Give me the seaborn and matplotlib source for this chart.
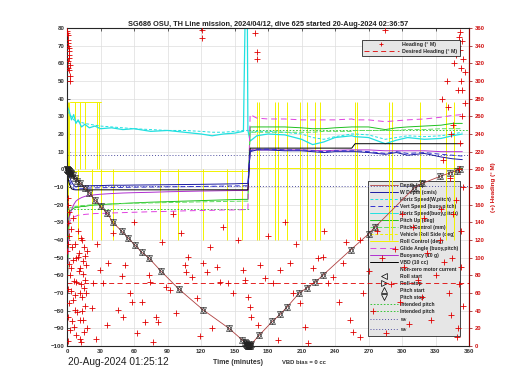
import numpy as np
import pandas as pd
import matplotlib.pyplot as plt
import seaborn as sns
from matplotlib.lines import Line2D

sns.set_style('white')
plt.rcParams['font.family'] = ['Liberation Sans', 'DejaVu Sans']

title = 'SG686 OSU, TH Line mission, 2024/04/12, dive 625 started 20-Aug-2024 02:36:57'
plot_time = '20-Aug-2024 01:25:12'

# engineering time base (minutes) shared by the line series
t_eng = [0, 2, 4, 6, 8, 10, 13, 16, 20, 25, 30, 40, 50, 60, 75, 90, 105, 120, 130, 140, 150,
         158, 161, 162, 164, 170, 180, 195, 210, 220, 230, 240, 255, 258, 270, 285, 295, 305,
         320, 335, 345, 354]
hspd_w = [33, 31, 30, 28, 27.5, 27, 26.5, 26, 25.5, 25, 24.5, 24, 23.5, 23, 22.5, 22, 22, 21.5,
          21, 21, 21.5, 22, 22, 22, 21, 21.5, 21.5, 21, 20, 18, 17, 18.5, 20, 20, 19.5, 17, 18,
          19, 18.5, 19, 20, 21]
hspd_b = [36, 33, 28, 31, 26, 28, 24, 25.5, 23.5, 24.5, 23, 23.5, 22.5, 23, 21.5, 22, 21, 20,
          19, 20, 20.5, 21.5, 150, 22, 16, 19, 20, 19.5, 17, 14, 15.5, 18, 19, 18.5, 18, 14.5,
          16.5, 18, 17, 17.5, 19, 20]
w_depth = [0, -4, -7, -9, -10, -9.5, -9.5, -9.5, -9.3, -9.2, -9.2, -9, -9, -8.9, -8.8, -8.7,
           -8.6, -8.5, -8.4, -8.3, -8.2, -8, -8, -8, 10, 11, 11, 10.5, 10.5, 10, 9.5, 10, 10,
           10, 9.5, 8.5, 9.5, 8, 9, 7, 6, 5.5]
vspd_b = [-2, -6, -9, -11, -11.5, -11, -11, -10.8, -10.6, -10.5, -10.4, -10.3, -10.2, -10.1,
          -10, -9.9, -9.8, -9.7, -9.6, -9.5, -9.4, -9.3, -9.3, -9.3, 10.5, 11.5, 11.5, 11, 11,
          10.5, 10, 10.5, 10.5, 10.5, 10, 9, 10, 9, 9.5, 8.5, 8, 7.5]
pitch = [-75, -24, -23, -22, -21.5, -21.5, -21, -21, -20.5, -20.2, -20, -19.6, -19.3, -19,
         -18.6, -18.3, -18, -17.7, -17.5, -17.3, -17.1, -17, -17, -17, 24, 24, 24, 24, 23.5,
         23, 23, 23.5, 24, 24, 24, 22.5, 23.5, 24, 24.5, 25, 26, 26]
pitch_ctl = [-22, -22, -21.5, -21.5, -21, -21, -20.5, -20.5, -20.2, -20, -19.8, -19.6, -19.4,
             -19.2, -19, -18.8, -18.6, -18.4, -18.3, -18.2, -18.1, -18, -18, -18, 21, 21, 21,
             21, 21, 21, 21.5, 21.5, 21.5, 22, 22, 22, 22, 22.5, 22.5, 23, 23, 23]
glide = [-70, -30, -28, -27, -26.5, -26, -25.8, -25.5, -25.3, -25, -25, -24.7, -24.5, -24.3,
         -24, -23.8, -23.5, -23.3, -23.2, -23, -23, -22.8, -22.8, -22.8, 31, 29, 28.5, 28.5,
         28, 28, 28, 28, 28.5, 28, 28, 27, 27.5, 28, 28.5, 29.5, 30.5, 31]
buoy = [-30, -27, -23, -20, -18, -17, -16, -15.3, -14.8, -14.4, -14.1, -13.7, -13.4, -13.2,
        -13, -12.7, -12.5, -12.3, -12.2, -12.1, -12, -12, -12, -12, 11, 11, 11, 11, 11, 10.8,
        10.5, 10.8, 11, 11, 11, 10.5, 10.5, 10.5, 10.5, 10, 10, 10]
vbd = [-2, -8, -11, -11.5, -11.6, -11.6, -11.6, -11.6, -11.6, -11.6, -11.6, -11.6, -11.6,
       -11.6, -11.6, -11.6, -11.6, -11.6, -11.6, -11.6, -11.6, -11.6, -11.6, -11.6, 12, 12,
       12, 12, 12, 12, 12, 12, 12, 14.5, 14.5, 14.5, 14.5, 14.5, 14.5, 14.5, 14.5, 14.5]

# roll trace: baseline per phase plus switching spikes
roll_base_t = [0, 163, 163, 354]
roll_base_v = [-0.7, -0.7, 0.8, 0.8]
roll_hold_t = [3, 30]
roll_hold_v = [38, 38]
roll_spike_t = [0.5, 2, 7, 12, 16, 27, 29, 0.8, 10, 22, 30, 41, 83, 99, 122, 143, 157,
                170, 172, 186, 189, 197, 209, 215, 222, 227, 258, 260, 288, 291, 316, 339, 347]
roll_spike_lo = [0, 0, 0, 0, 0, 0, 0, -40, -40, -40, -40, -40, -40, -40, -40, -40, -40,
                 -40, -40, -40, -40, -40, -40, -40, -40, -40, -40, -40, -40, -40, -40, -40, -40]
roll_spike_hi = [38, 38, 38, 38, 38, 38, 38, 0, 0, 0, 0, 0, 0, 0, 0, 0, 0,
                 38, 38, 38, 38, 38, 38, 38, 38, 38, 38, 38, 38, 38, 38, 38, 38]

# intended pitch / w_d reference levels
ipitch_dn, ipitch_up = -22.4, 22.4
wd_up, wd_dn = 8.0, -9.3

# depth (m / 10, plotted negative) with control markers
depth_t = [0, 0.3, 0.6, 1, 1.3, 1.6, 2, 2.5, 3, 3.5, 4, 5, 7, 9, 12, 16, 20, 25, 30, 36, 41,
           49, 55, 61, 67, 73, 84, 100, 122, 145, 157, 159, 160, 160.5, 161, 161.5, 162, 162.5,
           163, 163.5, 164, 165, 172, 184, 191, 197, 208, 215, 222, 229, 254, 270, 276, 311,
           318, 334, 343, 349, 352]
depth_v = [0, 0, -0.2, -0.3, -0.5, -0.7, -1, -1.3, -1.8, -2.2, -2.6, -3.3, -5, -6.4, -7.8,
           -10.5, -13.4, -17.3, -21, -24.7, -30, -35, -39, -43, -47, -50, -57.5, -67.7, -79.6,
           -90, -96.6, -97.8, -98.5, -99, -99.3, -99.6, -99.8, -100, -100, -99.8, -99.5, -99,
           -94, -86, -82, -78, -70, -67, -64, -60, -45.6, -36.6, -32.6, -10.5, -8, -4, -2,
           -0.8, 0]

# heading (deg M), right axis
heading_t = [0.3, 0.8, 1.2, 0.5, 1.6, 2.0, 0.9, 2.4, 1.4, 2.8, 0.6, 1.8, 1.0, 2.2, 0.4, 1.5,
             2.6, 0.7, 1.9, 1.1, 2.9, 0.5, 0.4, 1.3, 2.1, 1.7, 0.9, 2.5, 1.2, 0.6,
             3.5, 4.0, 4.5, 5.0, 5.5, 6.0, 6.5, 7.0, 7.5, 8.0, 8.5, 9.0, 9.5, 10, 10.5, 11,
             11.5, 12, 12.5, 13, 13.5, 14, 14.5, 15, 15.5, 16, 16.5, 17, 17.5, 18,
             3.8, 4.8, 5.8, 6.8, 7.8, 11.2, 11.8, 12.2, 12.8, 13.2, 14.2, 15.2, 16.2, 17.2,
             22, 23.6, 26, 27, 29.5, 32, 36, 37, 41, 46, 49, 50, 52, 56, 58, 60, 63, 67, 70,
             73, 74, 77, 80, 81.5, 85, 89, 92, 95, 98, 102, 105.6, 107, 108, 112, 116, 119,
             121, 121, 122, 125, 128, 130, 134, 137, 140, 144, 149, 153, 158, 159, 162, 164,
             165,
             168, 170, 170, 171, 173, 177, 180, 184.6, 189, 191, 195, 200, 202, 205, 209, 213,
             216, 220, 225, 229, 230, 234, 238, 244, 247, 250, 253, 256,
             262, 262, 265, 268, 270, 274, 278, 282, 283, 285, 286, 290, 294, 298, 300, 302,
             306, 310, 314, 318, 320, 322, 326, 330,
             334, 335, 336, 337, 338, 339, 340, 341, 342, 343, 344, 344, 345, 346, 346, 347,
             348, 348, 349, 350, 350, 351, 351, 352, 352, 353, 353, 354, 354, 355, 355, 356,
             352, 353, 354, 355, 351, 356, 353, 350]
heading_v = [357, 352, 346, 340, 334, 329, 323, 318, 312, 306, 168, 152, 139, 124, 108, 93,
             80, 64, 49, 33, 18, 6, 354, 343, 337, 326, 315, 300, 160, 115,
             132, 88, 112, 52, 97, 22, 74, 116, 41, 72, 12, 38, 101, 130, 85, 105, 60, 88, 4,
             55, 120, 30, 96, 112, 66, 75, 45, 92, 20, 108,
             62, 28, 145, 58, 100, 30, 8, 122, 70, 40, 82, 16, 102, 60,
             43, 71, 8, 115, 86, 71, 24, 94, 128, 41, 79, 33, 92, 60, 50, 140, 15, 50, 27, 80,
             72, 5, 33, 27, 118, 67, 63, 150, 37, 128, 92, 84, 101, 78, 54, 11, 358, 349, 94,
             84, 112, 20, 90, 72, 135, 71, 60, 120, 86, 75, 56, 44, 33,
             354, 333, 325, 24, 92, 77, 125, 71, 7, 86, 140, 94, 60, 115, 49, 22, 3, 88, 100,
             101, 130, 71, 78, 50, 94, 118, 29, 16,
             120, 10, 60, 343, 85, 40, 130, 100, 343, 358, 15, 70, 110, 50, 150, 90, 25, 135,
             75, 55, 145, 105, 30, 80,
             120, 155, 280, 210, 95, 340, 300, 270, 60, 190, 240, 35, 100, 150, 250, 320, 330,
             165, 10, 20, 290, 200, 70, 355, 230, 90, 130, 260, 345, 180, 45, 310,
             335, 300, 290, 325, 350, 275, 315, 340]
desired_heading = 71

RED = '#e00000'
CYAN = '#20e0e0'
GREEN = '#20c020'
BLUE = '#1a1aa0'
MAG = '#e040e0'
PURP = '#b030d0'
YEL = '#f2f200'
DOT = '#5050a0'

fig = plt.figure(figsize=(5.2, 3.9), dpi=100)
ax = fig.add_axes([67 / 520, 44 / 390, 402 / 520, 318 / 390])
ax2 = ax.twinx()


def line(a, x, y, color, ls='-', lw=0.7, z=2, **kw):
    sns.lineplot(x=x, y=y, ax=a, color=color, linestyle=ls, linewidth=lw,
                 estimator=None, sort=False, legend=False, zorder=z, **kw)


# roll (yellow)
line(ax, roll_base_t, roll_base_v, YEL)
line(ax, roll_hold_t, roll_hold_v, YEL)
ax.vlines(roll_spike_t, roll_spike_lo, roll_spike_hi, color=YEL, lw=0.7, zorder=2)

# reference levels
line(ax, [0, 163], [ipitch_dn, ipitch_dn], GREEN, ls=(0, (2, 2)), lw=0.6)
line(ax, [163, 360], [ipitch_up, ipitch_up], GREEN, ls=(0, (2, 2)), lw=0.6)
line(ax, [0, 360], [wd_up, wd_up], DOT, ls=(0, (1, 2)), lw=0.7)
line(ax, [0, 360], [wd_dn, wd_dn], DOT, ls=(0, (1, 2)), lw=0.7)

# engineering series
line(ax, t_eng, hspd_w, CYAN, ls=(0, (3, 2)))
line(ax, t_eng, hspd_b, CYAN, lw=0.9)
line(ax, t_eng, pitch, GREEN)
line(ax, t_eng, pitch_ctl, '#60dd60', ls=(0, (5, 2)))
line(ax, t_eng, glide, MAG, ls=(0, (6, 4)))
line(ax, t_eng, buoy, PURP)
line(ax, t_eng, vbd, 'black')
line(ax, t_eng, w_depth, BLUE)
line(ax, t_eng, vspd_b, '#3030d0', ls=(0, (5, 3)))

# depth with pitch start/stop markers (overlapping triangles)
line(ax, depth_t, depth_v, '#b04040', lw=0.6, z=3)
for m in ['^', 'v']:
    line(ax, depth_t, depth_v, 'black', ls='none', lw=0, z=4, marker=m, markersize=4.6,
         markerfacecolor='none', markeredgecolor='#222222', markeredgewidth=0.45,
         clip_on=False)

# heading (right axis)
sns.scatterplot(x=heading_t, y=heading_v, ax=ax2, marker='+', color=RED, s=16,
                linewidth=0.6, legend=False, zorder=3)
line(ax2, [0, 360], [desired_heading, desired_heading], RED, ls=(0, (6, 4)), lw=0.6)

ax.set_xlim(0, 360)
ax.set_ylim(-100, 80)
ax2.set_ylim(0, 360)
ax.set_xticks(range(0, 361, 30))
ax.set_yticks(range(-100, 81, 10))
ax2.set_yticks(range(0, 361, 20))
for a in (ax, ax2):
    a.set_xlabel('')
    a.set_ylabel('')
ax.grid(True, color='#dddddd', lw=0.5)
ax.set_axisbelow(True)
ax.tick_params(direction='in', length=2.5, width=0.5, top=True, labelsize=4.4,
               labelcolor='#333333', pad=2)
ax2.tick_params(axis='y', direction='out', length=2.5, width=0.5, color='#900000',
                labelcolor='#d01010', labelsize=4.2, pad=1.5)
for lbl in ax.get_xticklabels() + ax.get_yticklabels() + ax2.get_yticklabels():
    lbl.set_fontweight('bold')
for s in ['left', 'top', 'bottom']:
    ax.spines[s].set_linewidth(0.6)
ax2.spines['right'].set_color('#900000')
ax2.spines['right'].set_linewidth(0.8)

# legends
leg_labels = ['Depth (m)', 'W Depth (cm/s)', 'Horiz Speed(W,pitch)', 'Vert Speed (buoy,pitch)',
              'Horiz Speed(buoy,pitch)', 'Pitch Up (deg)', 'Pitch Control (mm)',
              'Vehicle Roll Side (deg)', 'Roll Control (deg)', 'Glide Angle (buoy,pitch)',
              'Buoyancy (10 g)', 'VBD (10 cc)', 'Non-zero motor current', 'Roll start',
              'Roll stop', 'Pitch start', 'Pitch stop', 'Intended pitch', 'Intended pitch',
              'w$_d$', 'w$_d$']
handles = [
    Line2D([], [], color='#b04040', lw=0.6),
    Line2D([], [], color=BLUE, lw=0.7),
    Line2D([], [], color=CYAN, lw=0.7, ls=(0, (3, 2))),
    Line2D([], [], color='#3030d0', lw=0.7, ls=(0, (5, 3))),
    Line2D([], [], color=CYAN, lw=0.7),
    Line2D([], [], color=GREEN, lw=0.7),
    Line2D([], [], color='#60dd60', lw=0.7, ls=(0, (5, 2))),
    Line2D([], [], color=YEL, lw=0.7, ls=(0, (3, 2))),
    Line2D([], [], color=YEL, lw=0.7),
    Line2D([], [], color=MAG, lw=0.7, ls=(0, (6, 4))),
    Line2D([], [], color=PURP, lw=0.7),
    Line2D([], [], color='black', lw=0.7),
    Line2D([], [], color='none'),
    Line2D([], [], ls='none', marker='<', mfc='none', mec='k', ms=4, mew=0.5),
    Line2D([], [], ls='none', marker='>', mfc='none', mec='k', ms=4, mew=0.5),
    Line2D([], [], ls='none', marker='^', mfc='none', mec='k', ms=4, mew=0.5),
    Line2D([], [], ls='none', marker='v', mfc='none', mec='k', ms=4, mew=0.5),
    Line2D([], [], color=GREEN, lw=0.6, ls=(0, (2, 2))),
    Line2D([], [], color=GREEN, lw=0.6, ls=(0, (2, 2))),
    Line2D([], [], color=DOT, lw=0.7, ls=(0, (1, 2))),
    Line2D([], [], color=DOT, lw=0.7, ls=(0, (1, 2))),
]
leg = ax.legend(handles, leg_labels, loc='lower right', bbox_to_anchor=(0.985, 0.025),
                prop={'size': 3.6, 'weight': 'bold'}, handlelength=5.6, handletextpad=0.4,
                labelspacing=0.4, borderpad=0.4, frameon=True, fancybox=False,
                facecolor='#e6e6e6', edgecolor='black', framealpha=1)
leg.get_frame().set_linewidth(0.5)
leg.set_zorder(1)

h2 = [Line2D([], [], color=RED, ls='none', marker='+', ms=3.5, mew=0.6),
      Line2D([], [], color=RED, ls=(0, (6, 4)), lw=0.6)]
leg2 = ax2.legend(h2, ['Heading (\u00b0 M)', 'Desired Heading (\u00b0 M)'], loc='upper right',
                  bbox_to_anchor=(0.983, 0.972), prop={'size': 3.8, 'weight': 'bold'},
                  handlelength=6.5, handletextpad=0.6, labelspacing=0.3, borderpad=0.5,
                  frameon=True, fancybox=False, facecolor='#e6e6e6', edgecolor='black',
                  framealpha=1)
leg2.get_frame().set_linewidth(0.5)

# texts
fig.text(268 / 520, 1 - 24 / 390, title, ha='center', va='center', fontsize=5.3,
         fontweight='bold', color='#222222')
fig.text(493 / 520, 1 - 187 / 390, '(+) Heading (\u00b0 M)', rotation=90, ha='center',
         va='center', fontsize=4.5, fontweight='bold', color='#d01010')
fig.text(68 / 520, 1 - 362 / 390, plot_time, ha='left', va='center', fontsize=7.3,
         color='#222222')
fig.text(213 / 520, 1 - 362 / 390, 'Time (minutes)', ha='left', va='center', fontsize=5,
         fontweight='bold', color='#333333')
fig.text(282 / 520, 1 - 362 / 390, 'VBD bias = 0 cc', ha='left', va='center', fontsize=4.2,
         fontweight='bold', color='#333333')

fig.savefig('out.png', dpi=100)
